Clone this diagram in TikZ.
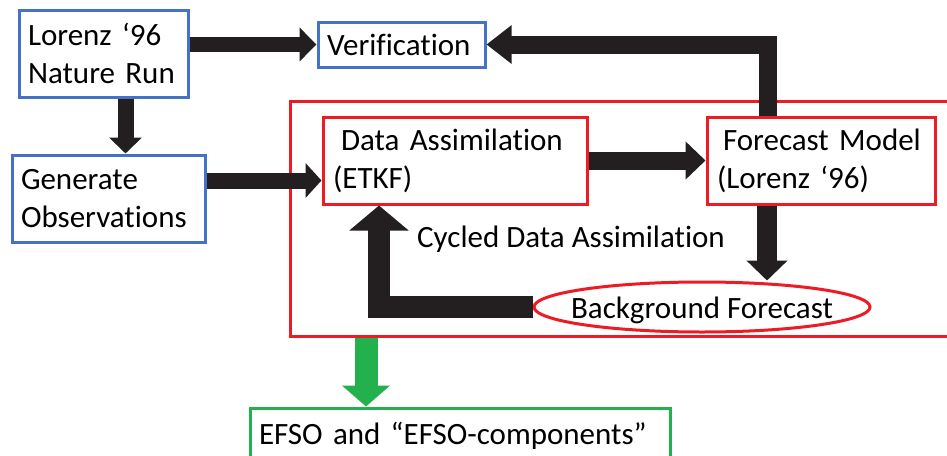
\documentclass[tikz,border=0pt]{standalone}
\usepackage{fontspec}
\setmainfont{Carlito}[Ligatures={NoCommon}]
\usetikzlibrary{arrows.meta,shapes.geometric}
\definecolor{boxblue}{HTML}{4472C4}
\definecolor{boxred}{HTML}{ED1C24}
\definecolor{boxgreen}{HTML}{22B14C}
\definecolor{arrowblack}{HTML}{231F20}
\tikzset{
	box/.style={draw, line width=3pt, inner xsep=9pt, inner ysep=0pt, align=left},
	bigarrow/.style n args={3}{draw=arrowblack, line width=#1, line join=miter, -{Triangle[width=#2,length=#3]}},
}

\begin{document}
\begin{tikzpicture}[x=1pt, y=-1pt, font=\fontsize{31}{38}\selectfont]
		\useasboundingbox (0,0) rectangle (947,455);
		%%%%% BOXES %%%%%
		\node[box, draw=boxblue, text width=151pt, minimum height=87pt] (nature) at (103.5,53.5) {Lorenz ‘96\\Nature Run};
		\node[box, draw=boxblue, text width=149pt, minimum height=45pt] (verif) at (401.5,44.5) {Verification};
		\node[box, draw=boxblue, text width=175pt, minimum height=87pt] (generate) at (108.5,198.5) {Generate\\Observations};
		
		\node[draw=boxred, line width=3pt, minimum width=661pt, minimum height=235pt, anchor=north west] (cycle) at (289,100) {};
		\node[box, draw=boxred, inner xsep=10pt, text width=244pt, minimum height=87pt] (da) at (455,160.5) {\hspace*{8pt}Data Assimilation\\(ETKF)};
		\node[box, draw=boxred, inner xsep=10pt, text width=208pt, minimum height=87pt] (forecast) at (821,160.5) {\hspace*{6pt}Forecast Model\\(Lorenz ‘96)};
		\node[ellipse, draw=boxred, line width=3pt, minimum width=336pt, minimum height=50pt, inner sep=0pt, label={[yshift=-3pt]center:Background Forecast}] (bg) at (702,307) {};
		\node[anchor=base west, inner sep=0pt] (cyclelabel) at (417,247) {Cycled Data Assimilation};
		
		\node[box, draw=boxgreen, text width=402pt, minimum height=56pt] (efso) at (460,436) {EFSO and “EFSO-components”};
		
		%%%%% ARROWS %%%%%
		\draw[bigarrow={15pt}{33pt}{17pt}] (nature.east |- verif.west) -- (verif.west);
		\draw[bigarrow={16pt}{32pt}{16pt}] ([xshift=22pt]nature.south) -- ([xshift=22pt]nature.south |- generate.north);
		\draw[bigarrow={16pt}{34pt}{16pt}] ([yshift=18pt]generate.east) -- ([yshift=18pt]generate.east -| da.west);
		\draw[bigarrow={18pt}{37pt}{25pt}] ([xshift=-53pt]forecast.north) |- (verif.east);
		\draw[bigarrow={18pt}{37pt}{20pt}] (da.east) -- (forecast.west);
		\draw[bigarrow={20pt}{40pt}{20pt}] ([xshift=-54pt]forecast.south) -- ([xshift=-54pt]forecast.south |- bg.north);
		\draw[bigarrow={22pt}{58pt}{25pt}] (bg.west) -| ([xshift=-76pt]da.south);
		
		\draw[bigarrow={23pt}{47pt}{21pt}, draw=boxgreen] ([xshift=77pt]cycle.south west) -- ([xshift=77pt]cycle.south west |- efso.north);
\end{tikzpicture}
\end{document}
